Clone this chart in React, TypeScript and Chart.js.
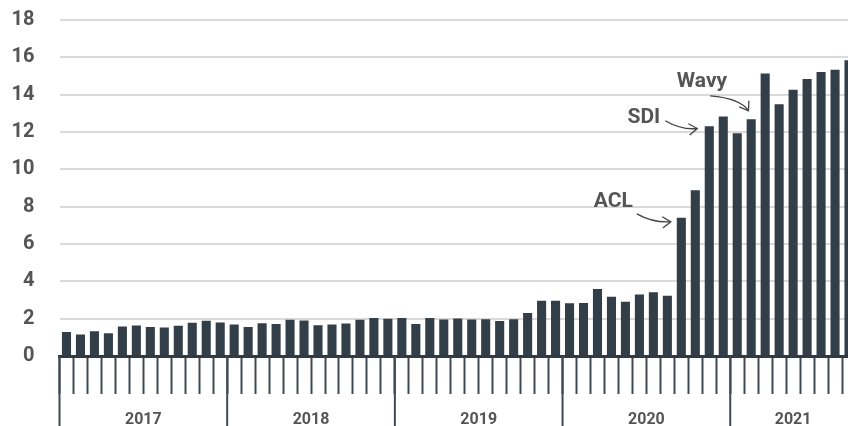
import { useEffect, useRef } from 'react';
import { Chart, registerables } from 'chart.js';

Chart.register(...registerables);

const years = ['2017', '2018', '2019', '2020', '2021'];
const monthNames = ['Jan', 'Feb', 'Mar', 'Apr', 'May', 'Jun', 'Jul', 'Aug', 'Sep', 'Oct', 'Nov', 'Dec'];

const values = [
  1.29, 1.15, 1.33, 1.22, 1.58, 1.63, 1.56, 1.53, 1.62, 1.78, 1.89, 1.8,
  1.69, 1.56, 1.76, 1.71, 1.94, 1.9, 1.65, 1.69, 1.74, 1.94, 2.03, 1.99,
  2.03, 1.72, 2.03, 1.96, 2.01, 1.96, 1.97, 1.87, 1.97, 2.3, 2.96, 2.96,
  2.82, 2.84, 3.59, 3.18, 2.91, 3.29, 3.41, 3.23, 7.4, 8.88, 12.31, 12.83,
  11.93, 12.68, 15.13, 13.48, 14.27, 14.84, 15.22, 15.33, 15.85,
];

const categories = years.flatMap((y) => monthNames.map((m) => `${m} ${y}`)).slice(0, values.length);

const yTicks = [0, 2, 4, 6, 8, 10, 12, 14, 16, 18];

const annotationLabels = ['ACL', 'SDI', 'Wavy'];
const annotationIndex = [44, 46, 49];

// layout of each callout relative to the top-left corner of its bar
const calloutLayout = [
  { text: [-44, -11], start: [-40, -4], ctrl: [-24, 5], tip: [-6, 4] },
  { text: [-44.5, -3.5], start: [-39.5, -5.5], ctrl: [-23, 4], tip: [-7.5, 2.3] },
  { text: [-19.5, -32.5], start: [-36.5, -23.5], ctrl: [-6, -21], tip: [1.8, -8.5] },
];

const BAR = '#323e48';
const TEXT = '#555555';
const FONT = 'Roboto, "Liberation Sans", sans-serif';

const yearPlugin = {
  id: 'yearAxis',
  afterDraw(chart: any) {
    const x = chart.scales.x;
    const ctx = chart.ctx;
    const step = x.getPixelForValue(1) - x.getPixelForValue(0);
    const top = chart.chartArea.bottom;
    const bottom = chart.height;
    ctx.save();
    years.forEach((yr, k) => {
      const s = k * 12;
      const e = Math.min(s + 12, values.length);
      const x0 = x.getPixelForValue(s) - step / 2;
      const x1 = x.getPixelForValue(e - 1) + step / 2;
      ctx.strokeStyle = '#3e4953';
      ctx.lineWidth = 2;
      ctx.beginPath();
      ctx.moveTo(x0, top);
      ctx.lineTo(x0, bottom);
      ctx.stroke();
      ctx.fillStyle = TEXT;
      ctx.font = `bold 16px ${FONT}`;
      ctx.textAlign = 'center';
      ctx.textBaseline = 'alphabetic';
      ctx.fillText(yr, (x0 + x1) / 2, 424);
    });
    ctx.restore();
  },
};

const calloutPlugin = {
  id: 'callouts',
  afterDatasetsDraw(chart: any) {
    const x = chart.scales.x;
    const y = chart.scales.y;
    const ctx = chart.ctx;
    const meta = chart.getDatasetMeta(0);
    ctx.save();
    annotationLabels.forEach((label, k) => {
      const idx = annotationIndex[k];
      const bar = meta.data[idx];
      const half = bar.width / 2;
      const bx = x.getPixelForValue(idx) - half;
      const by = y.getPixelForValue(values[idx]);
      const L = calloutLayout[k];
      ctx.fillStyle = TEXT;
      ctx.font = `bold 21px ${FONT}`;
      ctx.textAlign = 'right';
      ctx.textBaseline = 'alphabetic';
      ctx.fillText(label, bx + L.text[0], by + L.text[1]);
      const sx = bx + L.start[0], sy = by + L.start[1];
      const cx = bx + L.ctrl[0], cy = by + L.ctrl[1];
      const tx = bx + L.tip[0], ty = by + L.tip[1];
      ctx.strokeStyle = '#444';
      ctx.lineWidth = 1.3;
      ctx.beginPath();
      ctx.moveTo(sx, sy);
      ctx.quadraticCurveTo(cx, cy, tx, ty);
      ctx.stroke();
      const ang = Math.atan2(ty - cy, tx - cx);
      const hl = 10;
      const spread = 0.6;
      ctx.beginPath();
      ctx.moveTo(tx - hl * Math.cos(ang - spread), ty - hl * Math.sin(ang - spread));
      ctx.lineTo(tx, ty);
      ctx.lineTo(tx - hl * Math.cos(ang + spread), ty - hl * Math.sin(ang + spread));
      ctx.stroke();
    });
    ctx.restore();
  },
};

export default function App() {
  const ref = useRef<HTMLCanvasElement | null>(null);

  useEffect(() => {
    if (!ref.current) return;
    const chart = new Chart(ref.current, {
      type: 'bar',
      data: {
        labels: categories,
        datasets: [
          {
            data: values,
            backgroundColor: BAR,
            categoryPercentage: 1,
            barPercentage: 0.65,
          },
        ],
      },
      options: {
        animation: false,
        responsive: false,
        maintainAspectRatio: false,
        layout: { padding: { top: 20, bottom: 32, right: 4, left: 0 } },
        plugins: { legend: { display: false }, tooltip: { enabled: false } },
        scales: {
          x: {
            type: 'category',
            offset: true,
            grid: {
              offset: true,
              drawOnChartArea: false,
              drawTicks: true,
              tickLength: 38,
              tickColor: '#3e4953',
              tickWidth: 2,
            },
            border: { display: true, color: '#2f3a43', width: 3 },
            ticks: { display: false },
          },
          y: {
            min: 0,
            max: 18,
            afterBuildTicks: (scale: any) => {
              scale.ticks = yTicks.map((v) => ({ value: v }));
            },
            afterFit: (scale: any) => {
              scale.width = 59.5;
              scale.paddingTop = 0;
              scale.paddingBottom = 0;
            },
            grid: { color: '#dadada', lineWidth: 2, drawTicks: false },
            border: { display: false },
            ticks: {
              padding: 25,
              color: TEXT,
              font: { family: FONT, size: 20, weight: 'bold' },
            },
          },
        },
      },
      plugins: [yearPlugin, calloutPlugin],
    });
    return () => chart.destroy();
  }, []);

  return (
    <div style={{ position: 'fixed', left: 0, top: 0, width: 848, height: 426, overflow: 'hidden', background: '#fff' }}>
      <canvas ref={ref} width={860} height={426} style={{ display: 'block', width: 860, height: 426 }} />
    </div>
  );
}
